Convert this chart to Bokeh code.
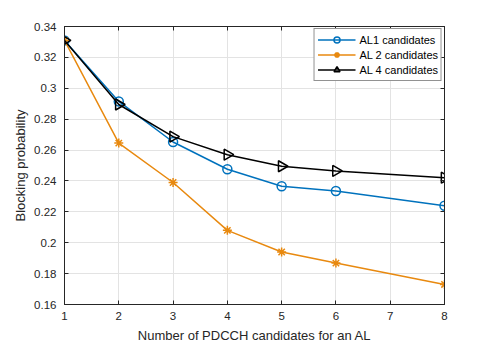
import numpy as np
from bokeh.plotting import figure
from bokeh.models import FixedTicker, LinearAxis, Legend, LegendItem, Range1d, CustomJSTickFormatter
from bokeh.embed import file_html
from bokeh.resources import INLINE

x_al1 = [1, 2, 3, 4, 5, 6, 8]
al1 = [0.331, 0.2915, 0.2652, 0.2476, 0.2366, 0.2335, 0.2239]
x_al2 = [1, 2, 3, 4, 5, 6, 8]
al2 = [0.331, 0.2645, 0.2390, 0.2080, 0.1940, 0.1868, 0.1730]
x_al4 = [1, 2, 3, 4, 5, 6, 8]
al4 = [0.331, 0.2895, 0.2687, 0.2570, 0.2495, 0.2465, 0.2421]

series_names = ["AL1 candidates", "AL 2 candidates", "AL 4 candidates"]
x_ticks = [1, 2, 3, 4, 5, 6, 7, 8]
y_ticks = [0.16, 0.18, 0.2, 0.22, 0.24, 0.26, 0.28, 0.3, 0.32, 0.34]
y_tick_labels = ["0.16", "0.18", "0.2", "0.22", "0.24", "0.26", "0.28", "0.3", "0.32", "0.34"]

FONT = "Liberation Sans"
AXC = "#262626"

p = figure(width=491, height=345, output_backend="svg", toolbar_location=None,
           x_range=Range1d(1, 8), y_range=Range1d(0.16, 0.34),
           min_border_left=64, min_border_right=47, min_border_top=26, min_border_bottom=40)
p.outline_line_color = AXC
p.outline_line_width = 1

for ax in [p.xaxis[0], p.yaxis[0]]:
    ax.major_tick_in = 4
    ax.major_tick_out = 0
    ax.minor_tick_in = 0
    ax.minor_tick_out = 0
    ax.axis_line_color = AXC
    ax.major_tick_line_color = AXC
    ax.major_label_text_font = FONT
    ax.major_label_text_font_size = "11.5px"
    ax.major_label_text_color = AXC
    ax.axis_label_text_font = FONT
    ax.axis_label_text_font_size = "13px"
    ax.axis_label_text_font_style = "normal"
    ax.axis_label_text_color = AXC

p.xaxis[0].ticker = FixedTicker(ticks=x_ticks)
p.yaxis[0].ticker = FixedTicker(ticks=y_ticks)
p.yaxis[0].major_label_overrides = {str(t): l for t, l in zip(y_ticks, y_tick_labels)}
p.xaxis[0].axis_label = "Number of PDCCH candidates for an AL"
p.yaxis[0].axis_label = "Blocking probability"
p.xaxis[0].major_label_standoff = 7
p.yaxis[0].major_label_standoff = 8
p.xaxis[0].axis_label_standoff = 5
p.yaxis[0].axis_label_standoff = 3

blank = CustomJSTickFormatter(code="return ''")
for loc, tk in [("above", x_ticks), ("right", y_ticks)]:
    a = LinearAxis(ticker=FixedTicker(ticks=tk), formatter=blank)
    a.major_tick_in = 4
    a.major_tick_out = 0
    a.minor_tick_in = 0
    a.minor_tick_out = 0
    a.axis_line_color = AXC
    a.major_tick_line_color = AXC
    a.major_label_standoff = 0
    p.add_layout(a, loc)

p.xgrid.ticker = FixedTicker(ticks=x_ticks)
p.ygrid.ticker = FixedTicker(ticks=y_ticks)
p.xgrid.grid_line_color = "#e3e3e3"
p.ygrid.grid_line_color = "#e3e3e3"

blue = "#0072BD"
orange = "#E8890F"
black = "#000000"

l1 = p.line(x_al1, al1, line_color=blue, line_width=1.5)
s1 = p.scatter(x_al1, al1, marker="circle", size=9, line_color=blue, fill_color=None, line_width=1.5)
l2 = p.line(x_al2, al2, line_color=orange, line_width=1.5)
s2 = p.scatter(x_al2, al2, marker="asterisk", size=9, line_color=orange, line_width=1.5)
l3 = p.line(x_al4, al4, line_color=black, line_width=1.5)
s3 = p.scatter(x_al4, al4, marker="triangle", size=11, angle=-np.pi / 2, line_color=black,
               fill_color=None, line_width=1.5)

legend = Legend(items=[
    LegendItem(label=series_names[0], renderers=[l1, s1]),
    LegendItem(label=series_names[1], renderers=[l2, s2]),
    LegendItem(label=series_names[2], renderers=[l3, s3]),
], location="top_right")
legend.label_text_font = FONT
legend.label_text_font_size = "11px"
legend.label_text_color = "#000000"
legend.glyph_width = 38
legend.glyph_height = 15
legend.label_height = 15
legend.spacing = 0
legend.padding = 3
legend.margin = 2
legend.label_standoff = 4
legend.border_line_color = AXC
legend.border_line_width = 1
legend.background_fill_color = "white"
legend.background_fill_alpha = 1
p.add_layout(legend)

open("out.html", "w").write(file_html(p, INLINE))
